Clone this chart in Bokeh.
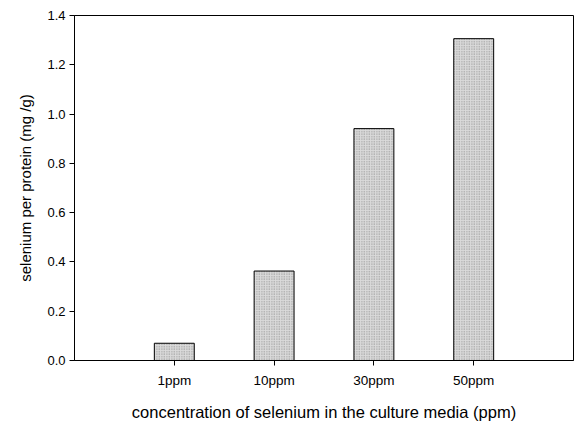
from bokeh.plotting import figure
from bokeh.models import FactorRange, Range1d, FixedTicker, NumeralTickFormatter
from bokeh.embed import file_html
from bokeh.resources import INLINE

categories = ["1ppm", "10ppm", "30ppm", "50ppm"]
values = [0.07, 0.363, 0.941, 1.306]
y_ticks = [0.0, 0.2, 0.4, 0.6, 0.8, 1.0, 1.2, 1.4]

FONT = "Liberation Sans"

p = figure(width=576, height=423, output_backend="svg", toolbar_location=None,
           x_range=FactorRange(*categories, range_padding=0.25),
           y_range=Range1d(0, 1.4),
           min_border_left=74, min_border_right=3, min_border_top=15, min_border_bottom=60)

p.vbar(x=categories, top=values, width=0.4,
       fill_color="#dadada", line_color="black", line_width=1,
       hatch_pattern="dot", hatch_color="#8a8a8a", hatch_scale=2.5, hatch_weight=1)

p.xgrid.visible = False
p.ygrid.visible = False
p.outline_line_color = "black"
p.outline_line_width = 1

p.yaxis.ticker = FixedTicker(ticks=y_ticks)
p.yaxis.formatter = NumeralTickFormatter(format="0.0")
p.yaxis.minor_tick_line_color = None
p.yaxis.major_tick_out = 5
p.yaxis.major_tick_in = 0
p.yaxis.axis_label = "selenium per protein (mg /g)"

p.xaxis.major_tick_out = 5
p.xaxis.major_tick_in = 0
p.xaxis.axis_label = "concentration of selenium in the culture media (ppm)"

for ax in (p.xaxis[0], p.yaxis[0]):
    ax.axis_line_color = "black"
    ax.major_tick_line_color = "black"
    ax.major_label_text_font = FONT
    ax.major_label_text_color = "black"
    ax.axis_label_text_font = FONT
    ax.axis_label_text_font_style = "normal"
    ax.axis_label_text_color = "black"

p.yaxis.major_label_text_font_size = "13px"
p.xaxis.major_label_text_font_size = "13.5px"
p.yaxis.axis_label_text_font_size = "15px"
p.xaxis.axis_label_text_font_size = "16.5px"

p.yaxis.major_label_standoff = 4
p.yaxis.axis_label_standoff = 10
p.xaxis.major_label_standoff = 7
p.xaxis.axis_label_standoff = 12

open("out.html", "w").write(file_html(p, INLINE))
